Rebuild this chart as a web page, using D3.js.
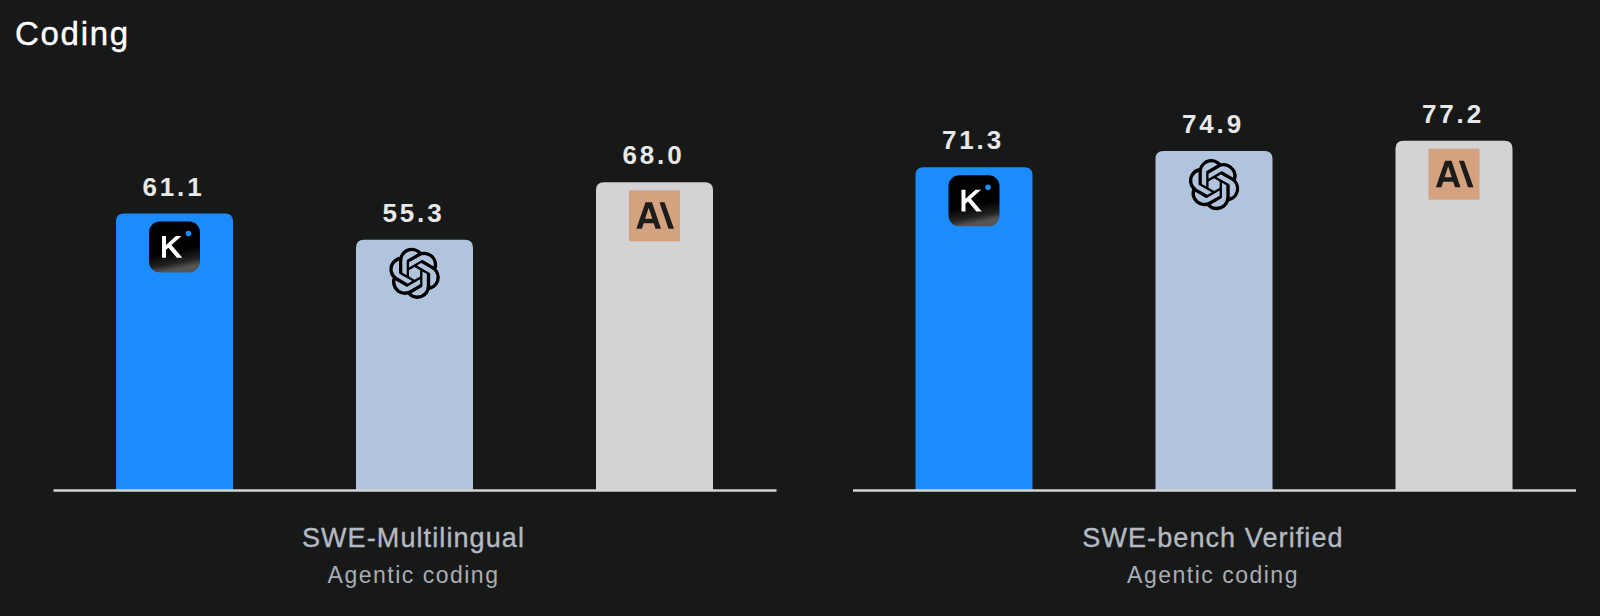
<!DOCTYPE html>
<html>
<head>
<meta charset="utf-8">
<script src="https://cdn.jsdelivr.net/npm/d3@7"></script>
<style>
  html, body { margin: 0; padding: 0; background: #171919; }
  text { font-family: "Liberation Sans", Arial, sans-serif; }
</style>
</head>
<body>
<div id="chart"></div>
<script>
const svgWidth = 1600
const svgHeight = 616

const title = "Coding"
const models = ["kimi", "openai", "anthropic"]
const benchmarks = ["SWE-Multilingual", "SWE-bench Verified"]
const subtitles = ["Agentic coding", "Agentic coding"]
const multilingualScores = [61.1, 55.3, 68.0]
const verifiedScores = [71.3, 74.9, 77.2]
const barColors = ["#1a8cff", "#b0c4de", "#d3d3d3"]

const panelSeries = [multilingualScores, verifiedScores]
const panelRanges = [[53, 776], [852.5, 1575.5]]
const baseline = 490

let svg = d3
  .select("#chart")
  .append("svg")
  .attr("width", svgWidth)
  .attr("height", svgHeight)
  .style("display", "block")

svg.append("rect")
  .attr("width", svgWidth)
  .attr("height", svgHeight)
  .attr("fill", "#171919")

// fade at the bottom of the K tile
let defs = svg.append("defs")
let tileFade = defs.append("linearGradient")
  .attr("id", "tile-fade")
  .attr("x1", 0).attr("y1", 0).attr("x2", 0.2).attr("y2", 1)
tileFade.append("stop").attr("offset", "0.65").attr("stop-color", "#000")
tileFade.append("stop").attr("offset", "0.88").attr("stop-color", "#222")
tileFade.append("stop").attr("offset", "1").attr("stop-color", "#555")

svg.append("text")
  .attr("x", 15)
  .attr("y", 45)
  .attr("fill", "#ffffff")
  .attr("stroke", "#ffffff")
  .attr("stroke-width", 0.4)
  .attr("font-size", 33)
  .attr("letter-spacing", 1.7)
  .text(title)

let yScale = d3.scaleLinear().domain([0, 100]).range([baseline, 37.5])

/**
 * Bar with rounded top corners, square at the axis.
 **/
function barPath(x, y, w, h, r) {
  let p = d3.path()
  p.moveTo(x, y + h)
  p.lineTo(x, y + r)
  p.quadraticCurveTo(x, y, x + r, y)
  p.lineTo(x + w - r, y)
  p.quadraticCurveTo(x + w, y, x + w, y + r)
  p.lineTo(x + w, y + h)
  p.closePath()
  return p.toString()
}

function drawKimi(g) {
  g.append("rect")
    .attr("x", -25.5)
    .attr("width", 51)
    .attr("height", 51)
    .attr("rx", 11)
    .attr("fill", "url(#tile-fade)")
  g.append("path")
    .attr("d", "M-12.5 14.5h4v9l10-9h5.5l-10 9 10.8 12.7h-5.4l-8.5-10-2.4 2.1v7.9h-4z")
    .attr("fill", "#ffffff")
  g.append("circle")
    .attr("cx", 14)
    .attr("cy", 12)
    .attr("r", 2.8)
    .attr("fill", "#1a8cff")
}

function drawOpenai(g) {
  g.append("path")
    .attr("transform", "translate(-25.5, 0) scale(2.13)")
    .attr("fill", "#000000")
    .attr("d", "M22.2819 9.8211a5.9847 5.9847 0 0 0-.5157-4.9108 6.0462 6.0462 0 0 0-6.5098-2.9A6.0651 6.0651 0 0 0 4.9807 4.1818a5.9847 5.9847 0 0 0-3.9977 2.9 6.0462 6.0462 0 0 0 .7427 7.0966 5.98 5.98 0 0 0 .511 4.9107 6.051 6.051 0 0 0 6.5146 2.9001A5.9847 5.9847 0 0 0 13.2599 24a6.0557 6.0557 0 0 0 5.7718-4.2058 5.9894 5.9894 0 0 0 3.9977-2.9001 6.0557 6.0557 0 0 0-.7475-7.0729zm-9.022 12.6081a4.4755 4.4755 0 0 1-2.8764-1.0408l.1419-.0804 4.7783-2.7582a.7948.7948 0 0 0 .3927-.6813v-6.7369l2.02 1.1686a.071.071 0 0 1 .038.052v5.5826a4.504 4.504 0 0 1-4.4945 4.4944zm-9.6607-4.1254a4.4708 4.4708 0 0 1-.5346-3.0137l.142.0852 4.783 2.7582a.7712.7712 0 0 0 .7806 0l5.8428-3.3685v2.3324a.0804.0804 0 0 1-.0332.0615L9.74 19.9502a4.4992 4.4992 0 0 1-6.1408-1.6464zM2.3408 7.8956a4.485 4.485 0 0 1 2.3655-1.9728V11.6a.7664.7664 0 0 0 .3879.6765l5.8144 3.3543-2.0201 1.1685a.0757.0757 0 0 1-.071 0l-4.8303-2.7865A4.504 4.504 0 0 1 2.3408 7.872zm16.5963 3.8558L13.1038 8.364 15.1192 7.2a.0757.0757 0 0 1 .071 0l4.8303 2.7913a4.4944 4.4944 0 0 1-.6765 8.1042v-5.6772a.79.79 0 0 0-.407-.667zm2.0107-3.0231l-.142-.0852-4.7735-2.7818a.7759.7759 0 0 0-.7854 0L9.409 9.2297V6.8974a.0662.0662 0 0 1 .0284-.0615l4.8303-2.7866a4.4992 4.4992 0 0 1 6.6802 4.66zM8.3065 12.863l-2.02-1.1638a.0804.0804 0 0 1-.038-.0567V6.0742a4.4992 4.4992 0 0 1 7.3757-3.4537l-.142.0805L8.704 5.459a.7948.7948 0 0 0-.3927.6813zm1.0976-2.3654l2.602-1.4998 2.6069 1.4998v2.9994l-2.5974 1.4997-2.6067-1.4997Z")
}

function drawAnthropic(g) {
  g.append("rect")
    .attr("x", -25.5)
    .attr("width", 51)
    .attr("height", 51)
    .attr("fill", "#d5a27f")
  g.append("path")
    .attr("fill", "#1c1c1c")
    .attr("fill-rule", "evenodd")
    .attr("d", "M-9 12h6.5l9 26.5h-5.5l-1.8-5.5h-10l-1.8 5.5h-5.5zm3.2 5.5-3.6 11h7.2zM5 12h5l9.5 26.5h-5.5z")
}

const iconDrawers = [drawKimi, drawOpenai, drawAnthropic]

panelSeries.forEach((values, i) => {
  let xScale = d3
    .scaleBand()
    .domain(models)
    .range(panelRanges[i])
    .paddingInner(0.5125)
    .paddingOuter(0.2625)

  let panel = svg.append("g").attr("class", "panel")

  let bars = panel
    .selectAll("g.bar")
    .data(values)
    .enter()
    .append("g")
    .classed("bar", true)

  bars.append("path")
    .attr("d", (d, j) => barPath(
      xScale(models[j]),
      yScale(d),
      xScale.bandwidth(),
      baseline - yScale(d),
      8
    ))
    .attr("fill", (d, j) => barColors[j])

  bars.append("text")
    .attr("x", (d, j) => xScale(models[j]) + xScale.bandwidth() / 2 - 1)
    .attr("y", d => yScale(d) - 18)
    .attr("text-anchor", "middle")
    .attr("font-size", 26)
    .attr("font-weight", "bold")
    .attr("letter-spacing", 2.8)
    .attr("fill", "#e8e8e8")
    .text(d => d.toFixed(1))

  bars.append("g")
    .attr("transform", (d, j) =>
      `translate(${xScale(models[j]) + xScale.bandwidth() / 2}, ${yScale(d) + 8})`)
    .each(function(d, j) {
      iconDrawers[j](d3.select(this))
    })

  let bottomAxis = d3.axisBottom(xScale).tickValues([]).tickSizeOuter(0)
  let xAxis = panel
    .append("g")
    .attr("transform", `translate(0, ${baseline})`)
    .call(bottomAxis)
  xAxis.select(".domain")
    .attr("stroke", "#d4d4d4")
    .attr("stroke-width", 2.5)

  let centre = (panelRanges[i][0] + panelRanges[i][1]) / 2

  panel.append("text")
    .attr("x", centre - 1)
    .attr("y", 547)
    .attr("text-anchor", "middle")
    .attr("font-size", 27)
    .attr("letter-spacing", 1.1)
    .attr("fill", "#b5b9c1")
    .attr("stroke", "#b5b9c1")
    .attr("stroke-width", 0.35)
    .text(benchmarks[i])

  panel.append("text")
    .attr("x", centre - 1)
    .attr("y", 583)
    .attr("text-anchor", "middle")
    .attr("font-size", 23)
    .attr("letter-spacing", 1.5)
    .attr("fill", "#a9adb4")
    .text(subtitles[i])
})
</script>
</body>
</html>
